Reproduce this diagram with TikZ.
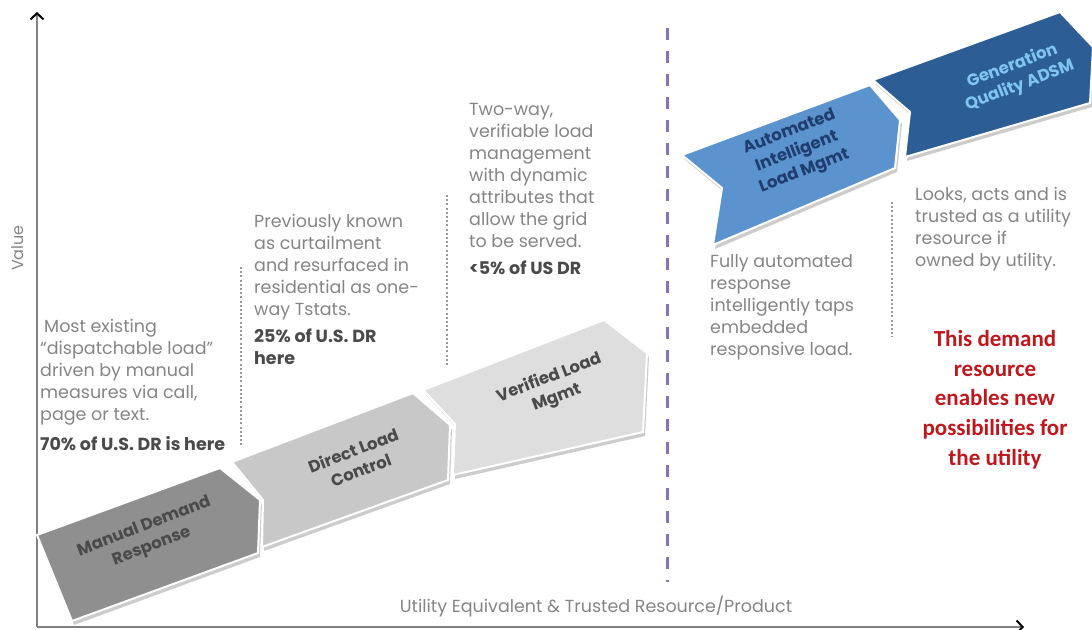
\documentclass[tikz,border=0pt]{standalone}
\usepackage{fontspec}
\setmainfont{Poppins}
\newfontfamily\calib{Carlito}
\usepackage{tikz}
\usetikzlibrary{arrows.meta}
\usepackage{xcolor}
\definecolor{txtgris}{HTML}{858585}
\definecolor{txtfonce}{HTML}{4A4A4A}
\definecolor{rougetxt}{HTML}{C0171C}
\definecolor{lignevio}{HTML}{8A72B8}
\definecolor{gris1}{HTML}{8F8F8F}
\definecolor{gris2}{HTML}{C8C8C8}
\definecolor{gris3}{HTML}{DEDEDE}
\definecolor{bleu1}{HTML}{5B93CF}
\definecolor{bleu2}{HTML}{2C5D95}
\definecolor{bleutxt}{HTML}{1F3D6E}
\definecolor{cieltxt}{HTML}{80C4F0}

\begin{document}
\begin{tikzpicture}[x=1pt,y=-1pt]

		\useasboundingbox (0,0) rectangle (1092,629);
		\tikzset{texte/.style={anchor=north west, inner sep=0pt, align=left, text=txtgris, font=\fontsize{17.5}{22}\selectfont}}
		\tikzset{etiq/.style={inner sep=0pt, align=center, rotate=21, font=\fontsize{16.5}{21}\selectfont\bfseries}}
		\tikzset{fleche/.style={draw=white, line width=2pt, line join=miter,
			preaction={fill=black, opacity=.2, transform canvas={xshift=2pt, yshift=-4pt}}}}
		\tikzset{axe/.style={draw=gray, line width=2pt, -{Straight Barb[color=black, length=6pt, width=13pt, line width=2pt]}}}
		\tikzset{pointille/.style={draw=gray!80, line width=2.4pt, dash pattern=on 2pt off 2.2pt}}

		% axes
		\coordinate (O) at (37,627);
		\coordinate (Yhaut) at (37,12);
		\coordinate (Xfin) at (1024,627);
		\draw[axe] (O) -- (Yhaut);
		\draw[axe] (O) -- (Xfin);
		\node[rotate=90, text=txtgris, font=\fontsize{16}{18}\selectfont] (valeur) at (18,248) {Value};
		\node[text=txtgris, font=\fontsize{17.5}{18}\selectfont] (produit) at (596,607) {Utility Equivalent \& Trusted Resource/Product};

		% chevrons
		\path[fleche, fill=gris1] (37,535) -- (220,468) -- (260,500) -- (258,553) -- (72,621) -- cycle;
		\path[fleche, fill=gris2] (232,462) -- (413,393) -- (450,425) -- (448,480) -- (262,547) -- (263,500) -- cycle;
		\path[fleche, fill=gris3] (423,390) -- (604,320) -- (647,353) -- (643,432) -- (453,475) -- (455,424) -- cycle;
		\path[fleche, fill=bleu1] (682,155) -- (870,85) -- (900,120) -- (895,168) -- (713,245) -- (722,188) -- cycle;
		\path[fleche, fill=bleu2] (873,80) -- (1060,12) -- (1093,47) -- (1090,103) -- (905,157) -- (910,112) -- cycle;

		\node[etiq, text=txtfonce] (manuel) at (148,537) {Manual Demand\\Response};
		\node[etiq, text=txtfonce] (direct) at (357,460) {Direct Load\\Control};
		\node[etiq, text=txtfonce] (verifie) at (553,388) {Verified Load\\Mgmt};
		\node[etiq, text=bleutxt] (auto) at (797,152) {Automated\\Intelligent\\Load Mgmt};
		\node[etiq, text=cieltxt] (gener) at (1016,76) {Generation\\Quality ADSM};

		% separateurs
		\coordinate (V1) at (667,28);
		\coordinate (V2) at (667,582);
		\draw[lignevio, line width=3pt, dash pattern=on 12pt off 11pt] (V1) -- (V2);
		\coordinate (P1) at (241,267);
		\coordinate (P2) at (241,447);
		\coordinate (Q1) at (447,195);
		\coordinate (Q2) at (447,367);
		\coordinate (R1) at (892,202);
		\coordinate (R2) at (892,337);
		\draw[pointille] (P1) -- (P2);
		\draw[pointille] (Q1) -- (Q2);
		\draw[pointille] (R1) -- (R2);

		% textes
		\node[texte] (t1) at (40,319) {\hspace{4pt}Most existing\\``dispatchable load''\\driven by manual\\measures via call,\\page or text.\\[8pt]{\color{txtfonce}\bfseries 70\% of U.S. DR is here}};
		\node[texte] (t2) at (254,214) {Previously known\\as curtailment\\and resurfaced in\\residential as one-\\way Tstats.\\[5pt]{\color{txtfonce}\bfseries 25\% of U.S. DR}\\{\color{txtfonce}\bfseries here}};
		\node[texte] (t3) at (469,103) {Two-way,\\verifiable load\\management\\with dynamic\\attributes that\\allow the grid\\to be served.\\[5pt]{\color{txtfonce}\bfseries <5\% of US DR}};
		\node[texte] (t4) at (710,254) {Fully automated\\response\\intelligently taps\\embedded\\responsive load.};
		\node[texte] (t5) at (915,187) {Looks, acts and is\\trusted as a utility\\resource if\\owned by utility.};
		\node[anchor=north, inner sep=0pt, align=center, text=rougetxt, font=\calib\fontsize{23}{29.7}\selectfont\bfseries] (rouge) at (995,330) {This demand\\resource\\enables new\\possibilities for\\the utility};

\end{tikzpicture}
\end{document}
